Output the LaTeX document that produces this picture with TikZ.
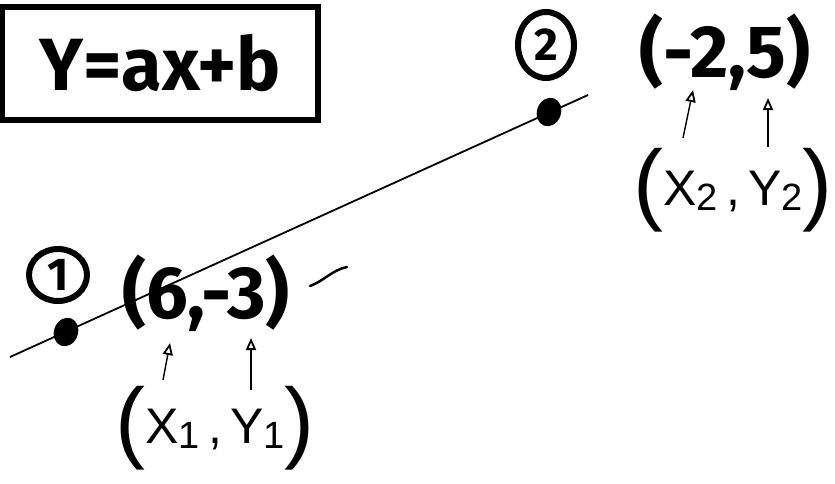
\documentclass[tikz,border=0pt]{standalone}
\usepackage{fontspec}
\setmainfont{Fira Sans}
\newfontfamily\penfont{Liberation Sans}
\usetikzlibrary{arrows.meta, positioning, shapes.geometric}

\tikzset{
  marker/.style={font=\bfseries\fontsize{74}{74}\selectfont, inner sep=0pt},
  pen/.style={font=\penfont\fontsize{50}{50}\selectfont, inner sep=0pt},
  numcirc/.style={ellipse, draw, line width=6pt, minimum width=58pt, minimum height=52pt, inner sep=0pt,
    font=\bfseries\fontsize{46}{46}\selectfont},
  blob/.style={ellipse, fill=black, minimum width=24pt, minimum height=29pt, inner sep=0pt, rotate=-20},
  uparrow/.style={-{Triangle[open, length=12pt, width=10pt, line width=1.8pt]}, line width=1.4pt},
}
\newcommand{\bigpar}[1]{{\fontsize{90}{90}\selectfont\raisebox{-8pt}{#1}}}
\newcommand{\sub}[1]{\raisebox{-5pt}{\fontsize{38}{38}\selectfont #1}}

\begin{document}
\begin{tikzpicture}[x=1pt, y=-1pt]
  \useasboundingbox (0,0) rectangle (835,483);
  % equation box
  \node[marker, draw, line width=6pt, minimum width=316pt, minimum height=113pt] (eq) at (160,63) {Y=ax+b};
  % the line through both points
  \coordinate (lstart) at (10,357);
  \coordinate (lend) at (588,95);
  \draw[line width=1.8pt] (lstart) -- (lend);
  \node[blob] (p1) at (66,332) {};
  \node[blob] (p2) at (549,112) {};
  % point labels
  \node[numcirc] (n1) at (58,275) {1};
  \node[numcirc, minimum width=56pt, minimum height=66pt] (n2) at (546,45) {2};
  \node[marker] (pt1) at (206,293) {(6,-3)};
  \node[marker] (pt2) at (725,52) {(-2,5)};
  \node[pen] (xy1) at (215,428) {\bigpar{(}X\sub{1}\,,\,Y\sub{1}\bigpar{)}};
  \node[pen] (xy2) at (733,190) {\bigpar{(}X\sub{2}\,,\,Y\sub{2}\bigpar{)}};
  % arrows up to the numbers
  \coordinate (a1) at (163,380);  \coordinate (b1) at (170,343);
  \coordinate (a2) at (251,390);  \coordinate (b2) at (251,338);
  \coordinate (a3) at (683,138);  \coordinate (b3) at (693,90);
  \coordinate (a4) at (768,147);  \coordinate (b4) at (768,98);
  \foreach \i in {1,...,4}
    \draw[uparrow] (a\i) -- (b\i);
  % stray stroke
  \draw[line width=2.5pt, line cap=round] (310,286) .. controls (324,281) and (332,270) .. (347,267);
\end{tikzpicture}
\end{document}
